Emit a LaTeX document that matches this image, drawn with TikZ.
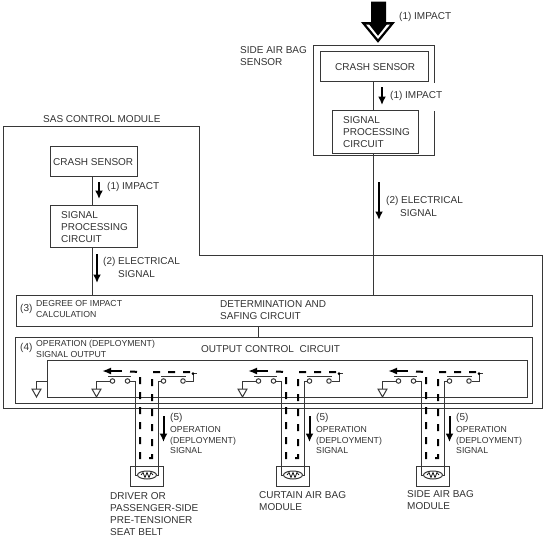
\documentclass[tikz,border=0pt]{standalone}
\usepackage{fontspec}
\setmainfont{Liberation Sans}
\usetikzlibrary{arrows.meta,positioning,shapes.geometric}
\definecolor{corlinha}{RGB}{55,55,55}
\definecolor{cortexto}{RGB}{50,50,50}

\begin{document}
\begin{tikzpicture}[
  x=1pt, y=-1pt,
  linha/.style={draw=corlinha, line width=1pt},
  bloco/.style={rectangle, draw=corlinha, line width=1pt, inner sep=0pt},
  rotulo/.style={anchor=west, align=left, inner sep=0pt, text=cortexto,
                 font=\fontsize{10}{12}\selectfont},
  miudo/.style={rotulo, font=\fontsize{8.7}{10.6}\selectfont},
  seta/.style={draw=black, line width=2pt, -{Latex[length=8.5pt,width=8pt]}},
  fluxo/.style={draw=black, line width=2pt, dash pattern=on 7pt off 8pt},
  terra/.style={draw=corlinha, line width=1pt, fill=white},
  contato/.style={circle, draw=corlinha, line width=1pt, fill=white, minimum size=4.5pt, inner sep=0pt}
]
  \useasboundingbox (0,0) rectangle (544,544);

  % sensor lateral
  \node[bloco, minimum width=121pt, minimum height=110pt] (sensorext) at (373.5,100) {};
  \fill[white] (433,83) rectangle (436,111);
  \node[bloco, fill=white, minimum width=108pt, minimum height=30pt] (crashb) at (374.5,66) {};
  \node[bloco, fill=white, minimum width=86pt, minimum height=43pt] (sinalb) at (375,131.5) {};
  \node[rotulo] (tcrashb) at (335,67) {CRASH SENSOR};
  \node[rotulo] (tsinalb) at (343,132) {SIGNAL\\PROCESSING\\CIRCUIT};
  \node[rotulo] (tsensorext) at (240,56) {SIDE AIR BAG\\SENSOR};

  % modulo de controle
  \coordinate (m0) at (3,126.5);
  \coordinate (m1) at (199,126.5);
  \coordinate (m2) at (199,255.5);
  \coordinate (m3) at (542,255.5);
  \coordinate (m4) at (542,408);
  \coordinate (m5) at (3,408);
  \draw[linha] (m0) -- (m1) -- (m2) -- (m3) -- (m4) -- (m5) -- cycle;
  \node[rotulo] (tmodulo) at (43,119) {SAS CONTROL MODULE};

  \node[bloco, minimum width=87pt, minimum height=30pt] (crasha) at (93.5,161) {};
  \node[bloco, minimum width=87pt, minimum height=42pt] (sinala) at (93.5,226) {};
  \node[rotulo] (tcrasha) at (53,162) {CRASH SENSOR};
  \node[rotulo] (tsinala) at (61,227) {SIGNAL\\PROCESSING\\CIRCUIT};

  \node[bloco, minimum width=516pt, minimum height=31.5pt] (det) at (274,310.8) {};
  \node[bloco, minimum width=517pt, minimum height=66pt] (saida) at (273.5,370) {};
  \node[bloco, minimum width=480pt, minimum height=37pt] (inter) at (287,378.5) {};

  \draw[linha] (crashb.south -| 373,0) -- (sinalb.north -| 373,0);
  \draw[linha] (sinalb.south -| 373,0) -- (det.north -| 373,0);
  \draw[linha] (crasha.south -| 92,0) -- (sinala.north -| 92,0);
  \draw[linha] (sinala.south -| 92,0) -- (det.north -| 92,0);
  \draw[linha] (det.south -| 258,0) -- (saida.north -| 258,0);

  \node[rotulo] (t3) at (20,309) {(3)};
  \node[miudo] (t3b) at (36,309) {DEGREE OF IMPACT\\CALCULATION};
  \node[rotulo] (tdet) at (220,310) {DETERMINATION AND\\SAFING CIRCUIT};
  \node[rotulo] (t4) at (20,348) {(4)};
  \node[miudo] (t4b) at (36,349) {OPERATION (DEPLOYMENT)\\SIGNAL OUTPUT};
  \node[rotulo] (tsaida) at (201,349) {OUTPUT CONTROL\ \ CIRCUIT};

  % seta grande do impacto
  \draw[draw=black, fill=black, line width=1pt] (371.5,2) -- (385.5,2) -- (385.5,22.5) -- (394,22.5) -- (378,42) -- (362,22.5) -- (371.5,22.5) -- cycle;
  \fill[white] (366,24.5) -- (369,24.5) -- (378,36) -- (387,24.5) -- (390,24.5) -- (378,39) -- cycle;
  \node[rotulo] (t1a) at (399,17) {(1) IMPACT};

  \coordinate (a0) at (382,87); \coordinate (a1) at (382,105);
  \draw[seta] (a0) -- (a1);
  \node[rotulo] (t1b) at (390,95.5) {(1) IMPACT};
  \coordinate (b0) at (99,182); \coordinate (b1) at (99,199);
  \draw[seta] (b0) -- (b1);
  \node[rotulo] (t1c) at (107,186.5) {(1) IMPACT};
  \coordinate (c0) at (97,254); \coordinate (c1) at (97,283);
  \draw[seta] (c0) -- (c1);
  \node[rotulo] (t2a) at (103,262) {(2) ELECTRICAL};
  \node[rotulo] (t2a2) at (118,274) {SIGNAL};
  \coordinate (d0) at (379,182); \coordinate (d1) at (379,220);
  \draw[seta] (d0) -- (d1);
  \node[rotulo] (t2b) at (386,201) {(2) ELECTRICAL};
  \node[rotulo] (t2b2) at (400,213) {SIGNAL};

  % terra da esquerda
  \coordinate (e0) at (36.5,381.5);
  \draw[linha] (inter.west |- e0) -- (e0) -- (36.5,389);
  \draw[terra] (32,389) -- (41,389) -- (36.5,397) -- cycle;

  % unidades de saida
  \foreach \dx/\nome in {0/u, 146/v, 286/w} {
    \begin{scope}[xshift=\dx pt]
      \node[contato] (\nome c1) at (112.5,381) {};
      \node[contato] (\nome c2) at (127.5,381) {};
      \node[contato] (\nome c3) at (163.5,381) {};
      \node[contato] (\nome c4) at (183,381) {};
      \node[bloco, minimum width=33pt, minimum height=20pt] (\nome m) at (146.5,476) {};
      \node[ellipse, draw=corlinha, line width=1pt, fill=white, minimum width=19pt, minimum height=8pt, inner sep=0pt] (\nome r) at (147,475) {};
      % fios
      \draw[linha] (\nome c2) -- (135,381) -- (135,475) -- (\nome r);
      \draw[linha] (\nome c3) -- (158,381) -- (158,475) -- (\nome r);
      \draw[linha] (\nome c1) -- (96.5,381) -- (96.5,389);
      \draw[terra] (92,389) -- (101,389) -- (96.5,397) -- cycle;
      \draw[linha] (\nome c4) -- (193,381) -- (193,373.5) -- (197,373.5);
      \fill[black] (193,373.5) circle (1.5pt);
      \draw[linha, line width=1.3pt] (108,376.5) -- (131,376.5);
      \draw[linha, line width=1.3pt] (161,376.5) -- (186,376.5);
      \draw[line width=0.7pt] (141,475) -- (143,472.5) -- (145,477.5) -- (147,472.5) -- (149,477.5) -- (151,472.5) -- (153,475);
      % fluxo
      \draw[fluxo] (190,372) -- (152,372) -- (152,458) -- (140,458) -- (140,372) -- (130,371.5);
      \draw[draw=black, line width=2pt, -{Latex[length=9pt,width=7pt]}] (122,371) -- (102,371);
      % seta (5)
      \coordinate (\nome a) at (163.5,416);
      \coordinate (\nome b) at (163.5,442);
      \draw[seta] (\nome a) -- (\nome b);
      \node[rotulo] (\nome t) at (170,418) {(5)};
      \node[miudo] (\nome s) at (170,440) {OPERATION\\(DEPLOYMENT)\\SIGNAL};
    \end{scope}
  }

  \node[rotulo] (tdriver) at (110,514) {DRIVER OR\\PASSENGER-SIDE\\PRE-TENSIONER\\SEAT BELT};
  \node[rotulo] (tcortina) at (259,501) {CURTAIN AIR BAG\\MODULE};
  \node[rotulo] (tlateral) at (407,500) {SIDE AIR BAG\\MODULE};
\end{tikzpicture}
\end{document}
